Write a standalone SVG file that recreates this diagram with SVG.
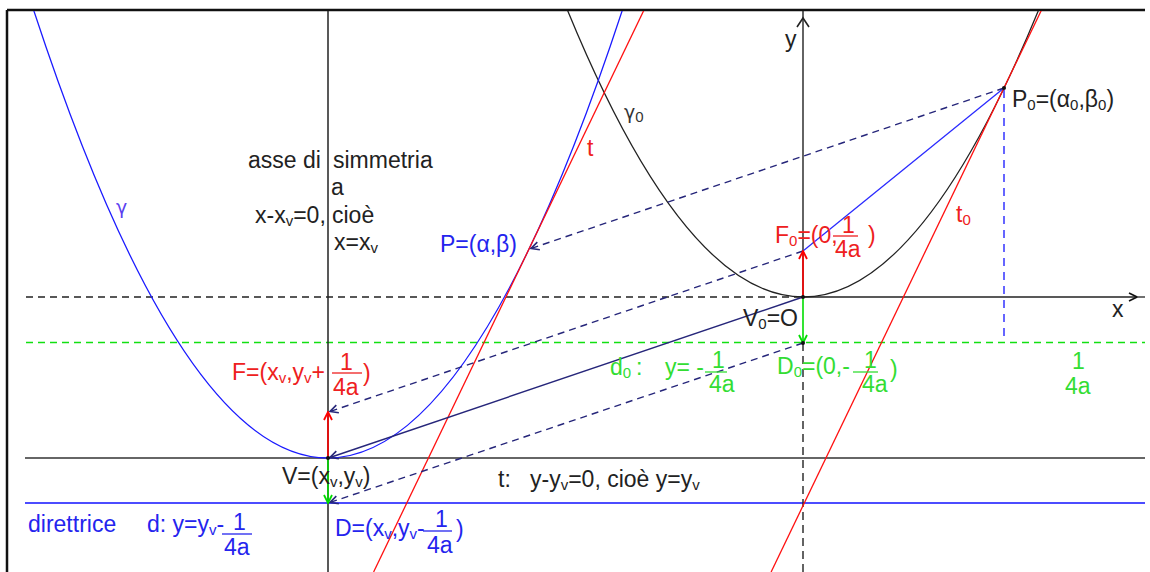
<svg xmlns="http://www.w3.org/2000/svg" width="1150" height="572" viewBox="0 0 1150 572">
<style>
text{font-family:"Liberation Sans",Arial,sans-serif;font-size:23px}
.s{font-size:15px}
.k{fill:#222}
.r{fill:#ee2020}
.g{fill:#33dd33}
.b{fill:#2424ee}
.gr{font-family:"DejaVu Sans",sans-serif;font-size:19px}
.nv{stroke:#26267a;stroke-width:1.4;fill:none}
.dash{stroke-dasharray:7,5}
</style>
<defs>
<clipPath id="frame"><rect x="8" y="11" width="1137" height="561"/></clipPath>
<marker id="an" viewBox="0 0 10 10" refX="9" refY="5" markerWidth="10" markerHeight="10" markerUnits="userSpaceOnUse" orient="auto"><path d="M1,1 L9,5 L1,9" fill="none" stroke="#26267a" stroke-width="1.6"/></marker>
<marker id="ar" viewBox="0 0 10 10" refX="9" refY="5" markerWidth="10" markerHeight="10" markerUnits="userSpaceOnUse" orient="auto"><path d="M1,1 L9,5 L1,9" fill="none" stroke="#ff0000" stroke-width="1.8"/></marker>
<marker id="ag" viewBox="0 0 10 10" refX="9" refY="5" markerWidth="10" markerHeight="10" markerUnits="userSpaceOnUse" orient="auto"><path d="M1,1 L9,5 L1,9" fill="none" stroke="#00dd00" stroke-width="1.8"/></marker>
<marker id="ak" viewBox="0 0 10 10" refX="9" refY="5" markerWidth="10" markerHeight="10" markerUnits="userSpaceOnUse" orient="auto"><path d="M1,1 L9,5 L1,9" fill="none" stroke="#111" stroke-width="1.6"/></marker>
</defs>
<rect width="1150" height="572" fill="#fff"/>

<g id="frame-lines" stroke="#111" stroke-width="2.5">
<line x1="7" y1="10" x2="1145" y2="10"/>
<line x1="7" y1="10" x2="7" y2="572"/>
</g>

<g id="connectors" clip-path="url(#frame)">
<line x1="26" y1="297" x2="803" y2="297" stroke="#222" stroke-width="1.3" class="dash"/>
<line x1="803" y1="297" x2="1137" y2="297" stroke="#222" stroke-width="1.4" marker-end="url(#ak)"/>
<line x1="1138" y1="297" x2="1145" y2="297" stroke="#222" stroke-width="1.3"/>
<line x1="26" y1="342.5" x2="1145" y2="342.5" stroke="#11e011" stroke-width="1.4" class="dash"/>
<line x1="25" y1="458" x2="1145" y2="458" stroke="#333" stroke-width="1.5"/>
<line x1="25" y1="503" x2="1145" y2="503" stroke="#1010ff" stroke-width="1.5"/>
<line x1="328" y1="10" x2="328" y2="572" stroke="#222" stroke-width="1.5"/>
<line x1="803" y1="297" x2="803" y2="10" stroke="#222" stroke-width="1.4"/>
<path d="M797,27 L803,18 L809,27" fill="none" stroke="#222" stroke-width="1.6"/>
<line x1="803" y1="343" x2="803" y2="572" stroke="#222" stroke-width="1.4" stroke-dasharray="8,5"/>
<line x1="1004" y1="90" x2="1004" y2="342" stroke="#3333ff" stroke-width="1.5" stroke-dasharray="8,6"/>
<path id="gamma0" d="M567.4,10 Q803,584 1038.6,10" fill="none" stroke="#222" stroke-width="1.3"/>
<path id="gamma" d="M33.6,10 Q328,906 622.4,10" fill="none" stroke="#1a1aff" stroke-width="1.3"/>
<line x1="1041.5" y1="10" x2="771.1" y2="572" stroke="#ff1010" stroke-width="1.3"/>
<line x1="644" y1="10" x2="373.6" y2="572" stroke="#ff1010" stroke-width="1.3"/>
<line x1="1004" y1="88" x2="803" y2="251" stroke="#2a2aff" stroke-width="1.3"/>
<line x1="1004" y1="88" x2="531" y2="248.5" class="nv dash" marker-end="url(#an)"/>
<line x1="803" y1="251" x2="330" y2="411.5" class="nv dash" marker-end="url(#an)"/>
<line x1="803" y1="297" x2="330" y2="457.5" class="nv" marker-end="url(#an)"/>
<line x1="803" y1="343" x2="330" y2="502.5" class="nv dash" marker-end="url(#an)"/>
<line x1="328" y1="458" x2="328" y2="412" stroke="#ff0000" stroke-width="1.6" marker-end="url(#ar)"/>
<line x1="328" y1="458" x2="328" y2="503" stroke="#00dd00" stroke-width="1.6" marker-end="url(#ag)"/>
<line x1="803" y1="297" x2="803" y2="251" stroke="#ff0000" stroke-width="1.6" marker-end="url(#ar)"/>
<line x1="803" y1="297" x2="803" y2="343" stroke="#00dd00" stroke-width="1.6" marker-end="url(#ag)"/>
</g>

<g id="points" fill="#111">
<circle cx="1004" cy="88" r="2"/>
<circle cx="803" cy="297" r="2"/>
<circle cx="803" cy="343" r="2"/>
<circle cx="328" cy="458" r="2"/>
</g>

<g id="axis-labels">
<text x="785" y="47" class="k">y</text>
<text x="1112" y="317" class="k">x</text>
</g>

<g id="axis-of-symmetry-label" class="k">
<text x="248" y="168">asse di</text>
<text x="333" y="168">simmetria</text>
<text x="331" y="195">a</text>
<text x="255" y="223">x-x<tspan class="s" dy="3">v</tspan><tspan dy="-3">=0,</tspan></text>
<text x="332" y="223">cioè</text>
<text x="334" y="250">x=x<tspan class="s" dy="3">v</tspan></text>
</g>

<g id="curve-labels">
<text x="116" y="214" class="gr" style="fill:#5a40f0">γ</text>
<text x="624" y="119" class="gr" style="fill:#333">γ<tspan class="s" style="font-family:'Liberation Sans',Arial,sans-serif" dy="3">0</tspan></text>
<text x="587" y="156" class="r">t</text>
<text x="956" y="222" class="r">t<tspan class="s" dy="3">0</tspan></text>
</g>

<g id="node-P0">
<text x="1012" y="107" class="k">P<tspan class="s" dy="3">0</tspan><tspan dy="-3">=(α</tspan><tspan class="s" dy="3">0</tspan><tspan dy="-3">,β</tspan><tspan class="s" dy="3">0</tspan><tspan dy="-3">)</tspan></text>
</g>

<g id="node-P">
<text x="440" y="252" class="b">P=(α,β)</text>
</g>

<g id="node-F0">
<text x="775" y="243" class="r">F<tspan class="s" dy="3">0</tspan><tspan dy="-3">=(0,</tspan></text>
<text x="842" y="233" class="r">1</text>
<line x1="833" y1="236" x2="858" y2="236" stroke="#ee2020" stroke-width="1.3"/>
<text x="835" y="257" class="r">4a</text>
<text x="868" y="243" class="r">)</text>
</g>

<g id="node-V0">
<text x="743" y="326" class="k">V<tspan class="s" dy="3">0</tspan><tspan dy="-3">=O</tspan></text>
</g>

<g id="node-D0">
<text x="777" y="374" class="g">D<tspan class="s" dy="3">0</tspan><tspan dy="-3">=(0,-</tspan></text>
<text x="864" y="368" class="g">1</text>
<line x1="853" y1="372" x2="878" y2="372" stroke="#33dd33" stroke-width="1.3"/>
<text x="862" y="392" class="g">4a</text>
<text x="890" y="377" class="g">)</text>
</g>

<g id="node-d0">
<text x="610" y="375" class="g">d<tspan class="s" dy="3">0</tspan></text>
<text x="636" y="375" class="g">:</text>
<text x="665" y="375" class="g">y= -</text>
<text x="712" y="368" class="g">1</text>
<line x1="705" y1="372" x2="727" y2="372" stroke="#33dd33" stroke-width="1.3"/>
<text x="709" y="392" class="g">4a</text>
</g>

<g id="node-quarter">
<text x="1072" y="369" class="g">1</text>
<text x="1065" y="394" class="g">4a</text>
</g>

<g id="node-F">
<text x="232" y="380" class="r">F=(x<tspan class="s" dy="3">v</tspan><tspan dy="-3">,y</tspan><tspan class="s" dy="3">v</tspan><tspan dy="-3">+</tspan></text>
<text x="340" y="370" class="r">1</text>
<line x1="332" y1="373" x2="362" y2="373" stroke="#ee2020" stroke-width="1.3"/>
<text x="333" y="395" class="r">4a</text>
<text x="363" y="381" class="r">)</text>
</g>

<g id="node-V">
<text x="282" y="484" class="k">V=(x<tspan class="s" dy="3">v</tspan><tspan dy="-3">,y</tspan><tspan class="s" dy="3">v</tspan><tspan dy="-3">)</tspan></text>
</g>

<g id="node-t">
<text x="498" y="487" class="k">t:</text>
<text x="530" y="487" class="k">y-y<tspan class="s" dy="3">v</tspan><tspan dy="-3">=0, cioè y=y</tspan><tspan class="s" dy="3">v</tspan></text>
</g>

<g id="node-D">
<text x="335" y="536" class="b">D=(x<tspan class="s" dy="3">v</tspan><tspan dy="-3">,y</tspan><tspan class="s" dy="3">v</tspan><tspan dy="-3">-</tspan></text>
<text x="435" y="527" class="b">1</text>
<line x1="423" y1="531" x2="452" y2="531" stroke="#2424ee" stroke-width="1.3"/>
<text x="427" y="553" class="b">4a</text>
<text x="456" y="537" class="b">)</text>
</g>

<g id="node-directrix">
<text x="28" y="532" class="b">direttrice</text>
<text x="147" y="532" class="b">d: y=y<tspan class="s" dy="3">v</tspan><tspan dy="-3">-</tspan></text>
<text x="233" y="530" class="b">1</text>
<line x1="222" y1="534" x2="252" y2="534" stroke="#2424ee" stroke-width="1.3"/>
<text x="224" y="555" class="b">4a</text>
</g>
</svg>
